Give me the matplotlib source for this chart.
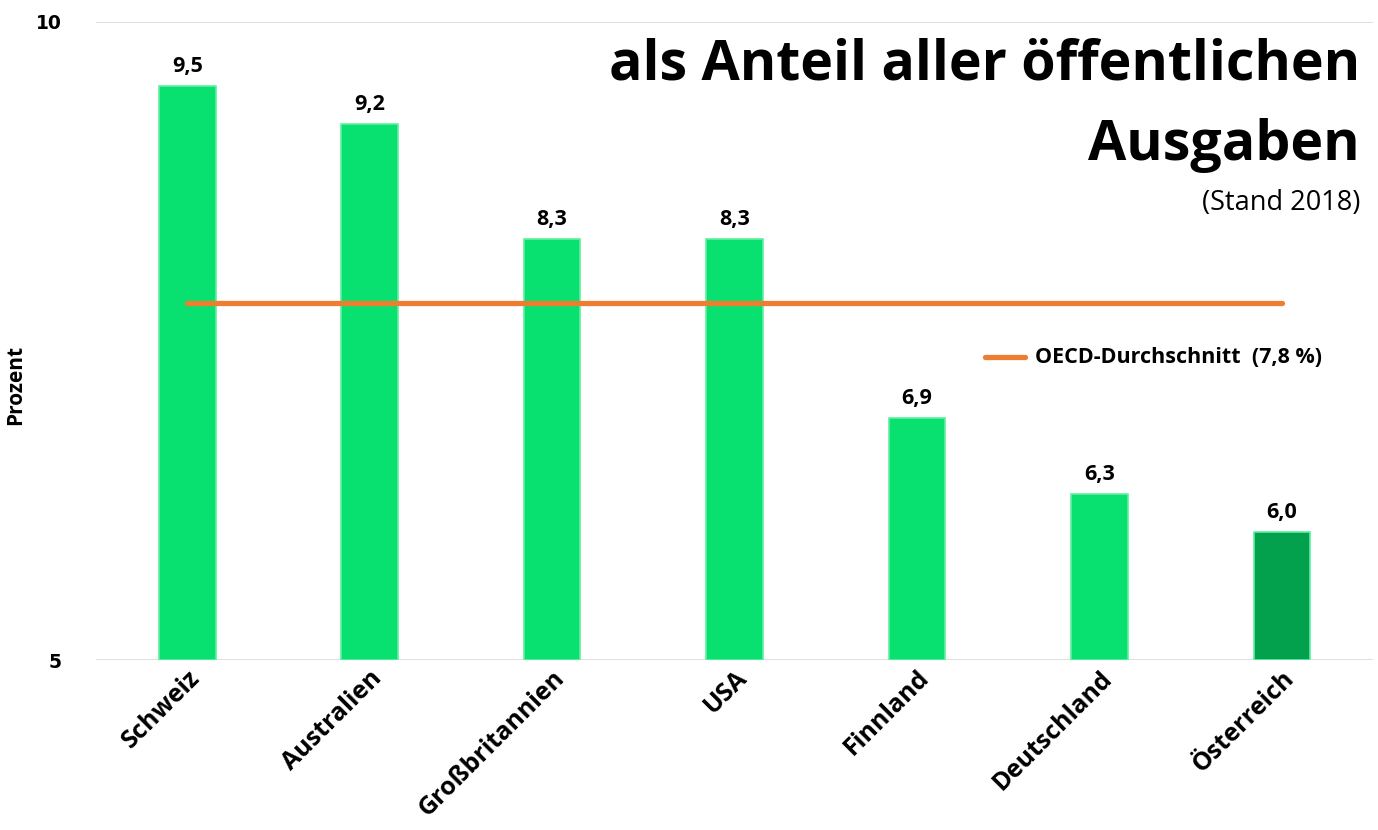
import matplotlib.pyplot as plt

laender = ['Schweiz', 'Australien', 'Großbritannien', 'USA', 'Finnland', 'Deutschland', 'Österreich']
anteil = [9.5, 9.2, 8.3, 8.3, 6.9, 6.3, 6.0]
oecd_schnitt = 7.8
hervorheben = 'Österreich'

schrift = 'Open Sans'
gruen = '#08E070'
gruen_dunkel = '#03A04E'
orange = '#ED7D31'

fig = plt.figure(figsize=(13.78, 8.30), dpi=100)
ax = fig.add_axes([0.0697, 0.2048, 0.9267, 0.7687])

x = range(len(laender))
farben = [gruen_dunkel if l == hervorheben else gruen for l in laender]
ax.bar(x, [v - 5 for v in anteil], bottom=5, width=0.31, color=farben,
       edgecolor='#5FEFA0', linewidth=1.2, zorder=3)

for xi, v in zip(x, anteil):
    ax.text(xi, v + 0.07, f'{v:.1f}'.replace('.', ','), ha='center', va='bottom',
            fontsize=15.5, fontweight='bold', family=schrift, zorder=4)

ax.plot([0, len(laender) - 1], [oecd_schnitt, oecd_schnitt], color=orange, lw=3.8,
        solid_capstyle='round', zorder=4)

ax.set_xlim(-0.5, len(laender) - 0.5)
ax.set_ylim(5, 10)
ax.set_yticks([5, 10])
ax.set_yticklabels(['5', '10'], fontsize=13.5, fontweight='bold')
ax.yaxis.grid(True, color='#D9D9D9', lw=1.2, zorder=0)
ax.set_axisbelow(True)
ax.tick_params(axis='y', length=0, pad=25)
ax.tick_params(axis='x', length=0, pad=4)
ax.set_xticks(list(x))
ax.set_xticklabels(laender, rotation=45, ha='right', rotation_mode='anchor',
                   fontsize=18, fontweight='bold', family=schrift)
for s in ax.spines.values():
    s.set_visible(False)

ax.set_ylabel('Prozent', fontsize=15, fontweight='bold', family=schrift)
ax.yaxis.set_label_coords(-0.055, 0.431)

# legend drawn by hand to match the placement
fig.lines.append(plt.Line2D([985 / 1378, 1025 / 1378], [1 - 357 / 830] * 2,
                            transform=fig.transFigure, color=orange, lw=3.8,
                            solid_capstyle='round'))
fig.text(1035 / 1378, 1 - 357 / 830, 'OECD-Durchschnitt  (7,8 %)', va='center', ha='left',
         fontsize=15.5, fontweight='bold', family=schrift)

fig.text(1360 / 1378, 1 - 80 / 830, 'als Anteil aller öffentlichen', ha='right',
         va='baseline', fontsize=40, fontweight='bold', family=schrift)
fig.text(1360 / 1378, 1 - 160 / 830, 'Ausgaben', ha='right', va='baseline',
         fontsize=40, fontweight='bold', family=schrift)
fig.text(1360 / 1378, 1 - 210 / 830, '(Stand 2018)', ha='right', va='baseline',
         fontsize=19.5, family=schrift)

fig.savefig('out.png', dpi=100)
